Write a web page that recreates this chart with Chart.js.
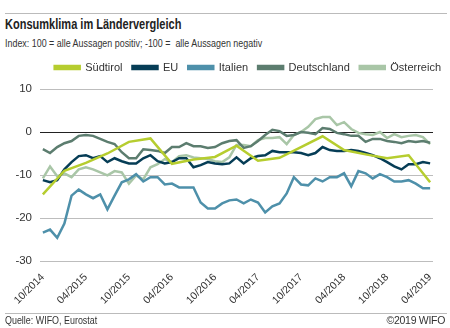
<!DOCTYPE html>
<html>
<head>
<meta charset="utf-8">
<script src="https://cdn.jsdelivr.net/npm/chart.js@4.4.0/dist/chart.umd.min.js"></script>
<style>
  body { margin: 0; background: #fff; }
  #wrap { position: relative; width: 450px; height: 328px; overflow: hidden;
          font-family: 'Liberation Sans', Arial, sans-serif; color: #333; }
  #chart { position: absolute; left: 0; top: 0; }
  .rule { position: absolute; left: 5px; width: 442px; height: 1px; background: #bbb; }
  .sq { position: absolute; left: 5px; transform-origin: 0 0; white-space: nowrap; }
  #title { top: 16px; font-size: 14.5px; font-weight: bold; color: #222; transform: scaleX(0.76); }
  #sub { top: 37px; font-size: 11px; transform: scaleX(0.81); }
  #src { top: 314px; font-size: 10.5px; transform: scaleX(0.85); }
  #copy { position: absolute; right: 5px; top: 314px; font-size: 10.5px; letter-spacing: -0.3px; }
</style>
</head>
<body>
<div id="wrap">
  <div class="rule" style="top:13px"></div>
  <div id="title" class="sq">Konsumklima im Ländervergleich</div>
  <div id="sub" class="sq">Index: 100 = alle Aussagen positiv; -100 =&nbsp; alle Aussagen negativ</div>
  <canvas id="chart" width="450" height="328"></canvas>
  <div class="rule" style="top:313px"></div>
  <div id="src" class="sq">Quelle: WIFO, Eurostat</div>
  <div id="copy">©2019 WIFO</div>
</div>
<script>
// monthly, 10/2014 .. 04/2019
const tickLabels = ['10/2014', '04/2015', '10/2015', '04/2016', '10/2016',
                    '04/2017', '10/2017', '04/2018', '10/2018', '04/2019'];

// Suedtirol only quarterly
const suedtirol = [-14.5, null, null, -9.0, null, null, -7.2, null, null, -5.0, null, null,
  -2.3, null, null, -1.5, null, null, -7.4, null, null, -6.4, null, null, -5.8, null, null,
  -3.2, null, null, -6.7, null, null, -6.0, null, null, -3.5, null, null, -1.0, null, null,
  -4.2, null, null, -5.2, null, null, -6.1, null, null, -5.4, null, null, -11.7];

const eu = [-11.2, -11.7, -11.2, -8.7, -7.0, -5.6, -5.4, -6.1, -5.6, -7.0, -6.1, -6.8,
  -7.3, -7.3, -6.1, -5.4, -6.8, -7.3, -7.0, -6.1, -6.1, -8.2, -7.7, -7.0, -7.3, -7.5,
  -7.3, -5.9, -7.3, -6.1, -5.6, -5.4, -4.4, -4.7, -4.7, -4.7, -4.9, -5.4, -4.9, -3.5,
  -4.2, -4.4, -4.4, -4.2, -4.4, -4.9, -5.4, -6.1, -7.0, -8.0, -8.7, -7.5, -7.5, -7.0, -7.3];

const italien = [-23.4, -22.7, -24.6, -21.3, -14.8, -13.4, -14.5, -15.4, -14.5, -18.0,
  -14.8, -11.7, -11.0, -9.8, -11.5, -10.5, -10.5, -12.2, -12.0, -12.9, -12.9, -12.9,
  -16.4, -17.8, -17.8, -16.6, -15.9, -15.7, -16.6, -15.7, -16.4, -18.7, -17.3, -16.6,
  -14.3, -10.5, -12.2, -12.4, -10.8, -11.5, -10.5, -10.5, -9.6, -12.6, -9.1, -9.6,
  -10.8, -9.8, -10.5, -11.5, -11.5, -11.2, -12.0, -13.1, -13.1];

const deutschland = [-4.0, -4.9, -3.5, -2.6, -2.1, -0.9, -0.7, -0.9, -1.6, -2.3, -2.8,
  -4.7, -6.1, -6.1, -4.0, -4.2, -4.4, -4.9, -3.5, -3.5, -2.6, -3.3, -3.3, -3.7, -3.5, -2.6,
  -2.1, -1.9, -3.7, -3.3, -2.1, -0.7, 0.5, 0.2, -0.9, -0.7, 0.0, -0.2, -0.5, 0.9, 0.7,
  -0.2, -0.5, -0.9, -0.9, -2.3, -1.6, -1.6, -2.1, -2.3, -2.6, -2.1, -2.3, -2.1, -2.5];

const oesterreich = [-10.8, -8.0, -10.3, -9.6, -10.5, -8.7, -8.2, -8.7, -9.4, -10.1, -9.1,
  -9.4, -12.0, -10.1, -11.0, -8.2, -7.5, -6.3, -7.0, -5.6, -5.4, -5.9, -6.1, -6.3, -6.8, -7.0,
  -5.9, -3.0, -3.0, -3.3, -1.9, -1.4, -1.4, -1.2, -2.8, -0.7, 0.0, 1.2, 3.0, 3.5, 3.5,
  1.6, 2.3, 0.7, -0.2, -0.5, -0.7, 0.0, -1.4, -0.5, -1.2, -0.9, -0.7, -1.2, -2.8];

const yTicks = [10, 0, -10, -20, -30];

const FONT = "'Liberation Sans', Arial, sans-serif";

function pts(arr) {
  return arr.map((v, i) => ({ x: i, y: v }));
}

function line(label, arr, color) {
  return {
    label: label,
    data: pts(arr),
    borderColor: color,
    backgroundColor: color,
    borderWidth: 2.5,
    pointRadius: 0,
    tension: 0,
    spanGaps: true
  };
}

// legend: a bit taller, and shifted right past the plot edge
const legendFit = {
  id: 'legendFit',
  beforeInit(chart) {
    const orig = chart.legend.fit;
    chart.legend.fit = function () {
      orig.bind(chart.legend)();
      this.height += 6;
    };
  },
  afterLayout(chart) {
    chart.legend.right += 18;
  }
};

new Chart(document.getElementById('chart').getContext('2d'), {
  type: 'line',
  data: {
    datasets: [
      line('Südtirol', suedtirol, '#b6cd2f'),
      line('EU', eu, '#063d56'),
      line('Italien', italien, '#4e90aa'),
      line('Deutschland', deutschland, '#5c7d6f'),
      line('Österreich', oesterreich, '#a9c6a7')
    ]
  },
  plugins: [legendFit],
  options: {
    responsive: false,
    animation: false,
    layout: { padding: { left: 4, right: 17, top: 52, bottom: 17 } },
    plugins: {
      legend: {
        display: true,
        position: 'top',
        align: 'end',
        labels: {
          boxWidth: 25,
          boxHeight: 3,
          padding: 10,
          color: '#333',
          font: { family: FONT, size: 11 }
        }
      },
      tooltip: { enabled: false }
    },
    scales: {
      x: {
        type: 'linear',
        min: -0.4,
        max: 54.4,
        afterBuildTicks: s => { s.ticks = tickLabels.map((t, i) => ({ value: i * 6 })); },
        afterFit: s => { s.height = 50; },
        grid: { display: false },
        border: { display: false },
        ticks: {
          autoSkip: false,
          minRotation: 45,
          maxRotation: 45,
          padding: 2,
          color: '#333',
          font: { family: FONT, size: 10.5 },
          callback: (v) => tickLabels[Math.round(v / 6)]
        }
      },
      y: {
        min: -30,
        max: 10,
        afterBuildTicks: s => { s.ticks = yTicks.map(v => ({ value: v })); },
        afterFit: s => { s.width = 36; },
        border: { display: false },
        grid: {
          drawTicks: false,
          color: c => c.tick.value === 0 ? '#222' : '#bdbdbd',
          lineWidth: 1
        },
        ticks: {
          padding: 8,
          color: '#333',
          font: { family: FONT, size: 11.5 }
        }
      }
    }
  }
});
</script>
</body>
</html>
